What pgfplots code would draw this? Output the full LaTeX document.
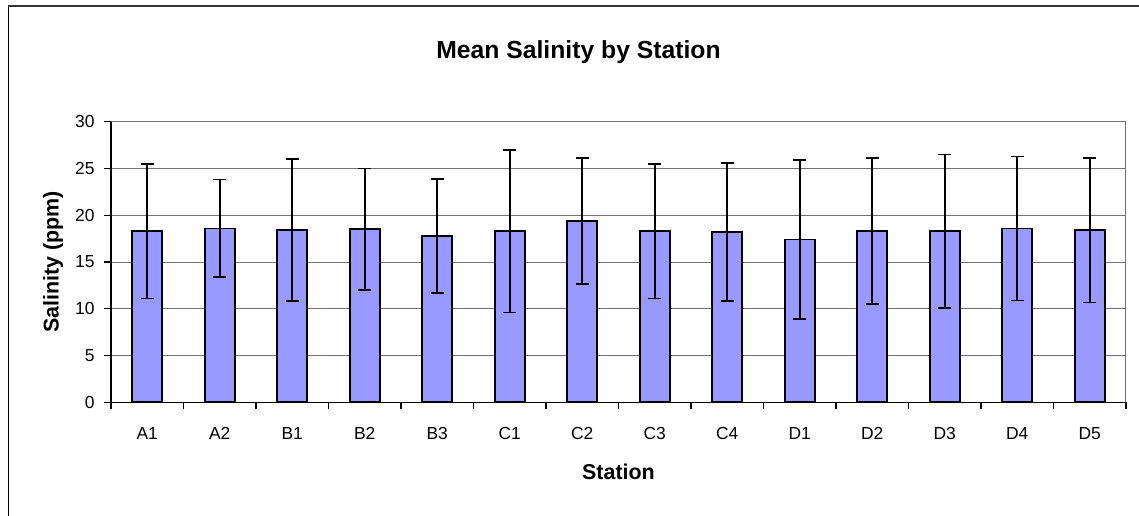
\documentclass[border=0pt]{standalone}
\usepackage{fontspec}
\setmainfont{Liberation Sans}
\usepackage{pgfplots}
\pgfplotsset{compat=1.18}
\usepackage{pgfplotstable}
\definecolor{barblue}{HTML}{9999FF}
\pgfplotstableread{
x mean err
0 18.3 7.2
1 18.6 5.2
2 18.4 7.6
3 18.5 6.5
4 17.8 6.1
5 18.3 8.7
6 19.4 6.75
7 18.3 7.2
8 18.2 7.4
9 17.4 8.5
10 18.3 7.8
11 18.3 8.2
12 18.6 7.7
13 18.4 7.75
}\datatable
\begin{document}
\begin{tikzpicture}
\begin{axis}[
  at={(111bp,113.7bp)}, anchor=south west,
  scale only axis, width=1015bp, height=280.6bp,
  xmin=-0.5, xmax=13.5, ymin=0, ymax=30,
  axis x line*=bottom, axis y line*=left,
  axis line style={black, line width=1.3bp},
  ytick={0,5,...,30},
  xtick={0,...,13},
  xticklabels={A1,A2,B1,B2,B3,C1,C2,C3,C4,D1,D2,D3,D4,D5},
  minor xtick={-0.5,0.5,...,13.5},
  tick align=outside,
  major tick length=6.7bp,
  minor tick length=7bp,
  major x tick style={draw=none},
  minor x tick style={black, line width=1.1bp},
  major y tick style={black, line width=1.1bp},
  ymajorgrids,
  grid style={black!55, line width=1bp},
  /pgf/number format/assume math mode=true,
  tick label style={font=\fontsize{17.5}{20}\selectfont},
  yticklabel style={anchor=east, inner sep=0pt, xshift=-9.5bp},
  xticklabel style={anchor=base, inner sep=0pt, yshift=-30.7bp},
  xlabel={Station},
  ylabel={Salinity (ppm)},
  label style={font=\bfseries\fontsize{21.5}{24}\selectfont},
  xlabel style={at={(axis description cs:0.5,-0.2769)}, anchor=base},
  ylabel style={at={(axis description cs:-0.0571,0.5)}, anchor=center},
]
\addplot[ybar, bar width=30bp, bar shift=0pt, fill=barblue, draw=black, line width=1.6bp,
  error bars/.cd, y dir=both, y explicit,
  error mark=|,
  error bar style={black, line width=1.6bp},
  error mark options={black, mark size=6.3bp, line width=1.6bp}]
  table[x=x, y=mean, y error=err]{\datatable};
\draw[black!55, line width=1bp] (rel axis cs:0,1) -- (rel axis cs:1,1) -- (rel axis cs:1,0);
\end{axis}
\node[anchor=base, font=\bfseries\fontsize{24.8}{28}\selectfont] at (578.5bp,457bp) {Mean Salinity by Station};
\draw[black, line width=1.3bp] (8.3bp,0bp) -- (8.3bp,510bp);
\draw[black!80, line width=2bp] (8.3bp,510bp) -- (1139bp,510bp);
\pgfresetboundingbox
\path (0,0) rectangle (1139bp,516bp);
\end{tikzpicture}
\end{document}
